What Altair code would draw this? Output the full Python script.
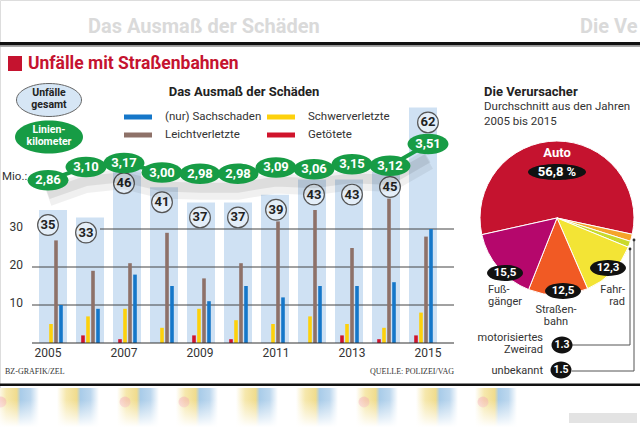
import altair as alt
import pandas as pd
import math

# ---------------- data ----------------
years = [2005, 2006, 2007, 2008, 2009, 2010, 2011, 2012, 2013, 2014, 2015]
total = [35, 33, 46, 41, 37, 37, 39, 43, 43, 45, 62]            # Unfälle gesamt
km = [2.86, 3.10, 3.17, 3.00, 2.98, 2.98, 3.09, 3.06, 3.15, 3.12, 3.51]  # Linienkilometer (Mio.)
sach = [10, 9, 18, 15, 11, 15, 12, 15, 15, 16, 30]              # (nur) Sachschaden
leicht = [27, 19, 21, 29, 17, 21, 32, 35, 25, 38, 28]           # Leichtverletzte
schwer = [5, 7, 9, 4, 9, 6, 5, 7, 5, 4, 8]                      # Schwerverletzte
tote = [0, 2, 1, 0, 2, 1, 0, 0, 2, 1, 2]                        # Getötete
grid_ticks = [10, 20, 30]

causes = ["Auto", "unbekannt", "motorisiertes Zweirad", "Fahrrad", "Straßenbahn", "Fußgänger"]
shares = [56.8, 1.5, 1.3, 12.3, 12.5, 15.5]
cause_colors = ["#c5132f", "#f5a42a", "#c9da2c", "#f3e435", "#f15a24", "#b5076c"]

F = "Roboto"
G = "#179c45"
LB = "#cfe1f3"

df = pd.DataFrame({"year": years, "total": total, "km": km, "sach": sach,
                   "leicht": leicht, "schwer": schwer, "tote": tote})
df["km_lbl"] = [f"{v:.2f}".replace(".", ",") for v in km]
grid_df = pd.DataFrame({"v": grid_ticks})
pie_df = pd.DataFrame({"cause": causes, "share": shares, "col": cause_colors,
                       "ord": list(range(len(causes)))})
one = pd.DataFrame({"a": [0]})

X = alt.Scale(domain=[2005, 2015], range=[48, 428])
Y = alt.Scale(domain=[0, 60], range=[343, 115])
YK = alt.Scale(domain=[2.8, 3.6], range=[183.7, 139.0])
xe = alt.X("year:Q", scale=X, axis=None)

layers = []


def txt(s, x, y, size=11.5, bold=False, color="#333", align="left", font=F, opacity=1):
    return alt.Chart(one).mark_text(text=s, fontSize=size, fontWeight="bold" if bold else "normal",
                                    color=color, align=align, baseline="middle", font=font,
                                    opacity=opacity).encode(x=alt.value(x), y=alt.value(y))


def ell(x, y, w, h, fill, stroke=None, sw=1):
    k = w / h
    path = f"M{-k},0A{k},1,0,1,1,{k},0A{k},1,0,1,1,{-k},0Z"
    props = dict(shape=path, size=h * h, filled=True, fill=fill, opacity=1, fillOpacity=1)
    if stroke:
        props.update(stroke=stroke, strokeWidth=sw)
    else:
        props.update(strokeWidth=0)
    return alt.Chart(one).mark_point(**props).encode(x=alt.value(x), y=alt.value(y))


def rect(x, x2, y, y2, fill, opacity=1):
    return alt.Chart(one).mark_rect(fill=fill, opacity=opacity).encode(
        x=alt.value(x), x2=alt.value(x2), y=alt.value(y), y2=alt.value(y2))


def hrule(x, x2, y, color="#555", w=1):
    return alt.Chart(one).mark_rule(color=color, strokeWidth=w).encode(
        x=alt.value(x), x2=alt.value(x2), y=alt.value(y))


def vrule(x, y, y2, color="#555", w=1):
    return alt.Chart(one).mark_rule(color=color, strokeWidth=w).encode(
        x=alt.value(x), y=alt.value(y), y2=alt.value(y2))


# ---------------- blurred header / footer decoration ----------------
layers.append(txt("Das Ausmaß der Schäden", 88, 27, size=20, bold=True, color="#dadada"))
layers.append(txt("Die Ve", 580, 27, size=20, bold=True, color="#dadada"))
layers.append(rect(0, 640, 42, 45.5, "#111"))
layers.append(rect(0, 640, 45.5, 47, "#aaa"))
layers.append(rect(0, 640, 383.5, 386, "#111"))

stripe_grad = alt.Gradient(gradient="linear", x1=0, y1=0, x2=1, y2=0, stops=[
    alt.GradientStop(offset=0, color="#ffffff"),
    alt.GradientStop(offset=0.22, color="#f6e8ad"),
    alt.GradientStop(offset=0.47, color="#f0dc8e"),
    alt.GradientStop(offset=0.56, color="#a9cce9"),
    alt.GradientStop(offset=0.8, color="#bcd7ee"),
    alt.GradientStop(offset=1, color="#ffffff")])
decor_x = [4, 64, 124, 183, 243, 303, 363, 423, 482]
for i, sx in enumerate(decor_x):
    layers.append(alt.Chart(one).mark_rect(fill=stripe_grad).encode(
        x=alt.value(sx - 7), x2=alt.value(sx + 35), y=alt.value(388), y2=alt.value(427)))
for sx in [0, 124, 183, 363, 482]:
    layers.append(alt.Chart(one).mark_point(shape="circle", size=120, filled=True,
                                            color="#f3a9b5", opacity=0.45).encode(
        x=alt.value(sx + 1), y=alt.value(402)))
fade = alt.Gradient(gradient="linear", x1=0, y1=0, x2=0, y2=1, stops=[
    alt.GradientStop(offset=0, color="rgba(255,255,255,0)"),
    alt.GradientStop(offset=1, color="rgba(255,255,255,1)")])
layers.append(alt.Chart(one).mark_rect(fill=fade).encode(
    x=alt.value(0), x2=alt.value(640), y=alt.value(400), y2=alt.value(427)))
layers.append(rect(569, 637, 413, 423, "#dcdcdc", opacity=0.8))

# ---------------- title & legend ----------------
layers.append(rect(8, 22, 56, 71, "#c5132f"))
layers.append(txt("Unfälle mit Straßenbahnen", 28, 64, size=17.5, bold=True, color="#c5132f",
                  font="Liberation Sans Narrow, Roboto"))
layers.append(txt("Das Ausmaß der Schäden", 244, 92, size=13, bold=True, color="#222", align="center"))

leg = [("(nur) Sachschaden", "#1577c9", 124, 117), ("Leichtverletzte", "#8e7168", 124, 135),
       ("Schwerverletzte", "#fdd10c", 267, 117), ("Getötete", "#d0142c", 267, 135)]
for lab, c, lx, ly in leg:
    layers.append(rect(lx, lx + 28, ly - 2.5, ly + 2.5, c))
    layers.append(txt(lab, lx + 41, ly, size=11.5, color="#333"))

layers.append(ell(49, 100, 65, 33, "#d6e6f5", stroke="#666", sw=1))
layers.append(txt("Unfälle", 49, 93, size=10.5, bold=True, color="#222", align="center"))
layers.append(txt("gesamt", 49, 105, size=10.5, bold=True, color="#222", align="center"))
layers.append(ell(49, 137, 68, 33, G))
layers.append(txt("Linien-", 49, 130, size=10.5, bold=True, color="white", align="center"))
layers.append(txt("kilometer", 49, 142, size=10.5, bold=True, color="white", align="center"))
layers.append(txt("Mio.:", 2, 177, size=11.5, color="#333"))

# ---------------- bar chart ----------------
base = alt.Chart(df)
layers.append(base.mark_bar(width=28, color=LB).encode(
    x=xe, y=alt.Y("total:Q", scale=Y, axis=None)))

gbase = alt.Chart(grid_df)
layers.append(gbase.transform_filter("datum.v < 30").mark_rule(color="#444", strokeWidth=1).encode(
    y=alt.Y("v:Q", scale=Y, axis=None), x=alt.value(32), x2=alt.value(454)))
layers.append(gbase.transform_filter("datum.v >= 30").mark_rule(color="#444", strokeWidth=1).encode(
    y=alt.Y("v:Q", scale=Y, axis=None), x=alt.value(100), x2=alt.value(454)))
layers.append(gbase.mark_text(align="right", fontSize=12, color="#333", font=F, dy=-2).encode(
    y=alt.Y("v:Q", scale=Y, axis=None), x=alt.value(23), text="v:Q"))

for field, c, off in [("tote", "#d0142c", -7), ("schwer", "#fdd10c", -2),
                      ("leicht", "#8e7168", 3), ("sach", "#1577c9", 8)]:
    layers.append(base.mark_bar(width=3.6, xOffset=off, color=c).encode(
        x=xe, y=alt.Y(f"{field}:Q", scale=Y, axis=None)))

layers.append(hrule(32, 454, 343, color="#333", w=1.2))
layers.append(base.transform_filter("datum.year % 2 == 1").mark_text(
    fontSize=12, color="#333", font=F).encode(x=xe, y=alt.value(353), text="year:N"))

layers.append(base.mark_point(shape="circle", size=430, filled=True, fill="#e4eef8", stroke="#555",
                              strokeWidth=1.2, opacity=1, fillOpacity=1, yOffset=15).encode(
    x=xe, y=alt.Y("total:Q", scale=Y, axis=None)))
layers.append(base.mark_text(fontSize=13, fontWeight="bold", color="#222", font=F, yOffset=15).encode(
    x=xe, y=alt.Y("total:Q", scale=Y, axis=None), text="total:Q"))

# green line with shadow
ky = alt.Y("km:Q", scale=YK, axis=None)
layers.append(base.mark_line(color="#000", strokeWidth=20, opacity=0.06, yOffset=16).encode(x=xe, y=ky))
layers.append(base.mark_line(color="#000", strokeWidth=10, opacity=0.08, yOffset=14).encode(x=xe, y=ky))
layers.append(base.mark_line(color=G, strokeWidth=4).encode(x=xe, y=ky))
kk = 2.0
ell_path = f"M{-kk},0A{kk},1,0,1,1,{kk},0A{kk},1,0,1,1,{-kk},0Z"
layers.append(base.mark_point(shape=ell_path, size=420, filled=True, color=G, opacity=1,
                              strokeWidth=0).encode(x=xe, y=ky))
layers.append(base.mark_text(fontSize=13, fontWeight="bold", color="white", font=F).encode(
    x=xe, y=ky, text="km_lbl:N"))

# ---------------- pie ----------------
layers.append(txt("Die Verursacher", 484, 92, size=13, bold=True, color="#222"))
layers.append(txt("Durchschnitt aus den Jahren", 484, 107, size=11.5, color="#333"))
layers.append(txt("2005 bis 2015", 484, 122, size=11.5, color="#333"))

a0 = math.radians(257.5)
layers.append(alt.Chart(pie_df).mark_arc(radius=77, stroke="white", strokeWidth=1).encode(
    theta=alt.Theta("share:Q", stack=True, scale=alt.Scale(range=[a0, a0 + 2 * math.pi])),
    color=alt.Color("col:N", scale=None),
    order=alt.Order("ord:Q"),
    x=alt.value(557), y=alt.value(218)))

layers.append(txt("Auto", 557, 153, size=13, bold=True, color="white", align="center"))
layers.append(ell(557, 172, 58, 16, "#111"))
layers.append(txt("56,8 %", 557, 172, size=13, bold=True, color="white", align="center"))
for lab, ex, ey in [("15,5", 505, 273), ("12,5", 563, 291), ("12,3", 608, 268)]:
    layers.append(ell(ex, ey, 36, 16, "#111"))
    layers.append(txt(lab, ex, ey, size=11.5, bold=True, color="white", align="center"))

layers.append(txt("Fuß-", 488, 290, size=11, color="#333"))
layers.append(txt("gänger", 488, 302, size=11, color="#333"))
layers.append(txt("Straßen-", 556, 310, size=11, color="#333", align="center"))
layers.append(txt("bahn", 556, 322, size=11, color="#333", align="center"))
layers.append(txt("Fahr-", 625, 290, size=11, color="#333", align="right"))
layers.append(txt("rad", 625, 302, size=11, color="#333", align="right"))

layers.append(txt("motorisiertes", 543, 338, size=11, color="#333", align="right"))
layers.append(txt("Zweirad", 543, 350, size=11, color="#333", align="right"))
layers.append(txt("unbekannt", 543, 371, size=11, color="#333", align="right"))

layers.append(hrule(572, 630, 345))
layers.append(vrule(630, 249, 345))
layers.append(hrule(572, 634, 371))
layers.append(vrule(634, 240, 371))
for dx, dy in [(630, 249), (634, 240)]:
    layers.append(alt.Chart(one).mark_point(shape="circle", size=8, filled=True, color="#333",
                                            opacity=1).encode(x=alt.value(dx), y=alt.value(dy)))
for lab, ex, ey in [("1.3", 562, 345), ("1.5", 561, 370)]:
    layers.append(ell(ex, ey, 21, 17, "#111"))
    layers.append(txt(lab, ex, ey, size=10.5, bold=True, color="white", align="center"))

# ---------------- credits ----------------
layers.append(txt("BZ-GRAFIK/ZEL", 5, 372, size=8, color="#333", font="Liberation Serif"))
layers.append(txt("QUELLE: POLIZEI/VAG", 454, 372, size=8, color="#333", align="right",
                  font="Liberation Serif"))

chart = alt.layer(*layers).resolve_scale(x="independent", y="independent").properties(
    width=640, height=427, autosize=alt.AutoSizeParams(type="none"), padding=0
).configure_view(stroke=None).configure(background="white")

chart.save("out.html", embed_options={"renderer": "svg", "actions": False})
